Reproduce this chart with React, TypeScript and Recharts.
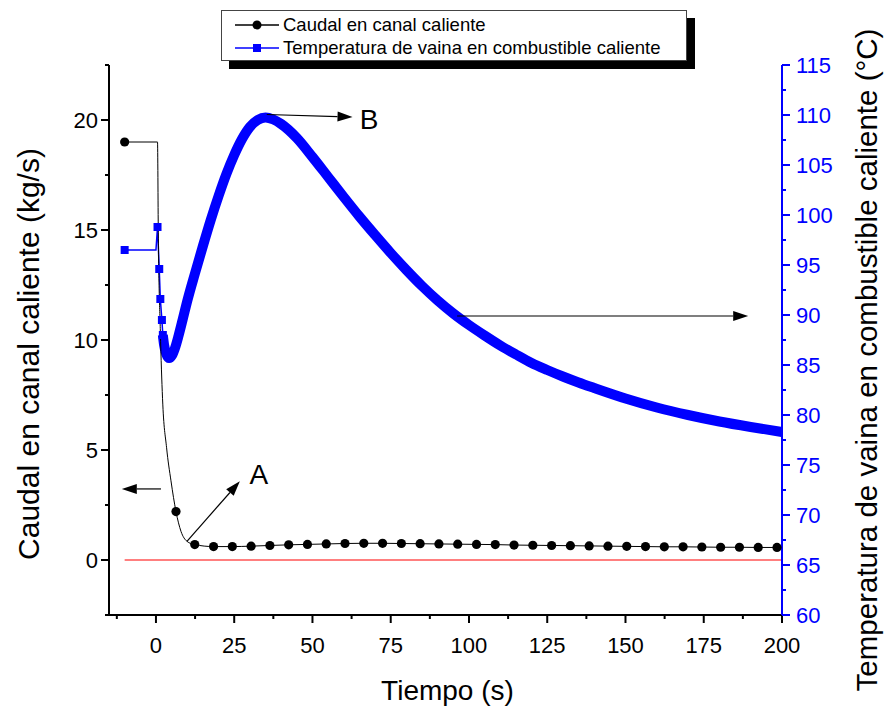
import { ComposedChart, Line, XAxis, YAxis, ReferenceLine, ReferenceDot } from 'recharts';

const FONT = '"Liberation Sans", Arial, Helvetica, sans-serif';
const BLUE = '#0000ff';

// Caudal en canal caliente (kg/s) - puntos marcados
const caudalDotT = [
  -10, 6.4, 12.4, 18.4, 24.4, 30.4, 36.4, 42.4, 48.4, 54.4, 60.4, 66.4, 72.4, 78.4, 84.4, 90.4, 96.4,
  102.4, 108.4, 114.4, 120.4, 126.4, 132.4, 138.4, 144.4, 150.4, 156.4, 162.4, 168.4, 174.4, 180.4,
  186.4, 192.4, 198.4,
];
const caudalDotV = [
  19, 2.2, 0.7, 0.61, 0.61, 0.63, 0.66, 0.69, 0.71, 0.73, 0.75, 0.76, 0.76, 0.75, 0.74, 0.73, 0.72,
  0.71, 0.7, 0.68, 0.67, 0.66, 0.65, 0.64, 0.63, 0.62, 0.61, 0.6, 0.6, 0.59, 0.58, 0.58, 0.57, 0.57,
];
// Caudal - tramo de caída sin símbolo
const caudalCurveT = [0.5, 0.75, 1.4, 2.1, 3.4, 4.8, 8, 9.9];
const caudalCurveV = [19, 14.9, 10.4, 7.35, 5.1, 3.6, 1.3, 0.85];

// Temperatura de vaina (°C) - símbolos aislados al inicio
const tempSquareT = [-10, 0, 0.5, 1.05, 1.4, 1.9, 2.2];
const tempSquareV = [96.5, 96.5, 98.8, 94.6, 91.6, 89.5, 88.0];
const tempSquareShown = [true, false, true, true, true, true, true];
// Temperatura de vaina - tramo denso
const tempBandT = [
  2.2, 2.6, 3.3, 4.2, 5.2, 6.2, 7.2, 8.5, 10, 12.5, 15, 17.5, 20, 22.5, 25, 27.5, 30, 32.5, 35, 37.5,
  40, 45, 50, 55, 60, 65, 70, 75, 80, 85, 90, 95, 100, 105, 110, 115, 120, 125, 130, 135, 140, 150,
  160, 170, 180, 190, 200,
];
const tempBandV = [
  88.0, 87.0, 86.1, 85.7, 86.0, 86.8, 87.9, 89.5, 91.4, 94.2, 96.9, 99.5, 101.9, 104.1, 106.0, 107.6,
  108.8, 109.5, 109.75, 109.55, 109.1, 107.7, 105.8, 103.8, 101.8, 99.85, 98.0, 96.2, 94.5, 92.9,
  91.45, 90.15, 89.0, 87.95, 86.95, 86.05, 85.2, 84.5, 83.85, 83.25, 82.7, 81.65, 80.75, 80.0, 79.35,
  78.8, 78.3,
];

// Línea roja de referencia (caudal cero)
const zeroT = [-10, 200];
const zeroV = [0, 0];

const xMajor = [0, 25, 50, 75, 100, 125, 150, 175, 200];
const xMinor = [-12.5, 12.5, 37.5, 62.5, 87.5, 112.5, 137.5, 162.5, 187.5];
const leftMajor = [0, 5, 10, 15, 20];
const leftMinor = [-2.5, 2.5, 7.5, 12.5, 17.5, 22.5];
const rightMajor = [60, 65, 70, 75, 80, 85, 90, 95, 100, 105, 110, 115];
const rightMinor = [62.5, 67.5, 72.5, 77.5, 82.5, 87.5, 92.5, 97.5, 102.5, 107.5, 112.5];

const xTicks = [...xMajor, ...xMinor].sort((a, b) => a - b);
const leftTicks = [...leftMajor, ...leftMinor].sort((a, b) => a - b);
const rightTicks = [...rightMajor, ...rightMinor].sort((a, b) => a - b);

const caudalLine = [
  ...caudalDotT.map((t, i) => ({ t, v: caudalDotV[i] })),
  ...caudalCurveT.map((t, i) => ({ t, v: caudalCurveV[i] })),
].sort((a, b) => a.t - b.t);
const caudalDots = caudalDotT.map((t, i) => ({ t, v: caudalDotV[i] }));
const tempSquares = tempSquareT.map((t, i) => ({ t, T: tempSquareV[i], shown: tempSquareShown[i] }));
const tempBand = tempBandT.map((t, i) => ({ t, T: tempBandV[i] }));
const zeroLine = zeroT.map((t, i) => ({ t, v: zeroV[i] }));

const TICK_FS = 22;
const TITLE_FS = 30;

const BottomTick = (p: any) => {
  const major = xMajor.includes(p.payload.value);
  return (
    <g>
      <line x1={p.x} x2={p.x} y1={p.y} y2={p.y + (major ? 8 : 4)} stroke="#000" strokeWidth={2} />
      {major && (
        <text x={p.x} y={p.y + 38} textAnchor="middle" fontSize={TICK_FS} fontFamily={FONT} fill="#000">
          {p.payload.value}
        </text>
      )}
    </g>
  );
};

const TopTick = (p: any) => {
  const major = xMajor.includes(p.payload.value);
  return <line x1={p.x} x2={p.x} y1={p.y} y2={p.y + (major ? 9 : 4)} stroke="#000" strokeWidth={2} />;
};

const LeftTick = (p: any) => {
  const major = leftMajor.includes(p.payload.value);
  return (
    <g>
      <line x1={p.x} x2={p.x - (major ? 8 : 4)} y1={p.y} y2={p.y} stroke="#000" strokeWidth={2} />
      {major && (
        <text x={p.x - 11} y={p.y} dy="0.35em" textAnchor="end" fontSize={TICK_FS} fontFamily={FONT} fill="#000">
          {p.payload.value}
        </text>
      )}
    </g>
  );
};

const RightTick = (p: any) => {
  const major = rightMajor.includes(p.payload.value);
  return (
    <g>
      <line x1={p.x} x2={p.x + (major ? 8 : 4)} y1={p.y} y2={p.y} stroke={BLUE} strokeWidth={2} />
      {major && (
        <text x={p.x + 14} y={p.y} dy="0.35em" textAnchor="start" fontSize={TICK_FS} fontFamily={FONT} fill={BLUE}>
          {p.payload.value}
        </text>
      )}
    </g>
  );
};

const vbOf = (p: any) => p.viewBox ?? p;

const BottomTitle = (p: any) => {
  const vb = vbOf(p);
  return (
    <text x={vb.x + vb.width / 2 + 2} y={vb.y + 85} textAnchor="middle" fontSize={28} fontFamily={FONT} fill="#000">
      Tiempo (s)
    </text>
  );
};

const LeftTitle = (p: any) => {
  const vb = vbOf(p);
  const cx = vb.x + 19;
  const cy = vb.y + vb.height / 2 + 14;
  return (
    <text
      x={cx}
      y={cy}
      dy="0.35em"
      transform={`rotate(-90 ${cx} ${cy})`}
      textAnchor="middle"
      fontSize={TITLE_FS}
      fontFamily={FONT}
      fill="#000"
    >
      Caudal en canal caliente (kg/s)
    </text>
  );
};

const RightTitle = (p: any) => {
  const vb = vbOf(p);
  const cx = vb.x + 85;
  const cy = vb.y + vb.height / 2 + 20;
  return (
    <text
      x={cx}
      y={cy}
      dy="0.35em"
      transform={`rotate(-90 ${cx} ${cy})`}
      textAnchor="middle"
      fontSize={29.5}
      fontFamily={FONT}
      fill="#000"
    >
      Temperatura de vaina en combustible caliente (°C)
    </text>
  );
};

const Arrow = (p: any) => {
  const { x1, y1, x2, y2 } = p;
  const a = Math.atan2(y2 - y1, x2 - x1);
  const len = 15;
  const half = 5;
  const bx = x2 - len * Math.cos(a);
  const by = y2 - len * Math.sin(a);
  const pts = `${x2},${y2} ${bx - half * Math.sin(a)},${by + half * Math.cos(a)} ${bx + half * Math.sin(a)},${by - half * Math.cos(a)}`;
  return (
    <g>
      <line x1={x1} y1={y1} x2={bx} y2={by} stroke="#000" strokeWidth={1.2} />
      <polygon points={pts} fill="#000" />
    </g>
  );
};

const letter = (txt: string) => (p: any) => (
  <text x={p.cx} y={p.cy} dy="0.35em" textAnchor="middle" fontSize={28} fontFamily={FONT} fill="#000">
    {txt}
  </text>
);

const CircleDot = (p: any) => <circle key={p.index} cx={p.cx} cy={p.cy} r={4.6} fill="#000" />;

const SquareDot = (p: any) =>
  p.payload.shown ? (
    <rect key={p.index} x={p.cx - 4} y={p.cy - 4} width={8} height={8} fill={BLUE} />
  ) : (
    <g key={p.index} />
  );

const LegendRow = ({ color, marker, label }: { color: string; marker: 'circle' | 'square'; label: string }) => (
  <div style={{ display: 'flex', alignItems: 'center', height: 22.5 }}>
    <svg width={56} height={14} style={{ marginLeft: 11 }}>
      <line x1={2} x2={46} y1={7} y2={7} stroke={color} strokeWidth={1.5} />
      {marker === 'circle' ? (
        <circle cx={24} cy={7} r={4.5} fill={color} />
      ) : (
        <rect x={20} y={3} width={8} height={8} fill={color} />
      )}
    </svg>
    <span style={{ marginLeft: -6 }}>{label}</span>
  </div>
);

export default function App() {
  return (
    <div style={{ position: 'absolute', left: 0, top: 0, width: 885, height: 711, background: '#fff' }}>
      <ComposedChart width={885} height={711} margin={{ top: 65, right: 0, bottom: 0, left: 9 }}>
        <XAxis
          xAxisId="bottom"
          type="number"
          dataKey="t"
          domain={[-15, 200]}
          ticks={xTicks}
          interval={0}
          height={96}
          tickSize={0}
          tickMargin={0}
          tickLine={false}
          tick={(p: any) => <BottomTick {...p} />}
          axisLine={{ stroke: '#000', strokeWidth: 2 }}
          label={(p: any) => <BottomTitle {...p} />}
        />
        <XAxis
          xAxisId="top"
          orientation="top"
          type="number"
          dataKey="t"
          domain={[-15, 200]}
          ticks={xTicks}
          interval={0}
          height={0}
          tickSize={0}
          tickMargin={0}
          tickLine={false}
          tick={(p: any) => <TopTick {...p} />}
          axisLine={{ stroke: '#000', strokeWidth: 2 }}
        />
        <YAxis
          yAxisId="left"
          type="number"
          domain={[-2.5, 22.5]}
          ticks={leftTicks}
          interval={0}
          width={100}
          tickSize={0}
          tickMargin={0}
          tickLine={false}
          tick={(p: any) => <LeftTick {...p} />}
          axisLine={{ stroke: '#000', strokeWidth: 2 }}
          label={(p: any) => <LeftTitle {...p} />}
        />
        <YAxis
          yAxisId="right"
          orientation="right"
          type="number"
          domain={[60, 115]}
          ticks={rightTicks}
          interval={0}
          width={103}
          tickSize={0}
          tickMargin={0}
          tickLine={false}
          tick={(p: any) => <RightTick {...p} />}
          axisLine={{ stroke: BLUE, strokeWidth: 2 }}
          label={(p: any) => <RightTitle {...p} />}
        />

        <Line
          xAxisId="bottom"
          yAxisId="left"
          data={zeroLine}
          dataKey="v"
          stroke="#ff0000"
          strokeWidth={1.2}
          dot={false}
          isAnimationActive={false}
        />
        <Line
          xAxisId="bottom"
          yAxisId="right"
          data={tempBand}
          dataKey="T"
          type="monotone"
          stroke={BLUE}
          strokeWidth={10}
          strokeLinejoin="round"
          dot={false}
          isAnimationActive={false}
        />
        <Line
          xAxisId="bottom"
          yAxisId="right"
          data={tempSquares}
          dataKey="T"
          stroke={BLUE}
          strokeWidth={1.5}
          dot={SquareDot}
          activeDot={false}
          isAnimationActive={false}
        />
        <Line
          xAxisId="bottom"
          yAxisId="left"
          data={caudalLine}
          dataKey="v"
          type="monotone"
          stroke="#000"
          strokeWidth={1}
          dot={false}
          isAnimationActive={false}
        />
        <Line
          xAxisId="bottom"
          yAxisId="left"
          data={caudalDots}
          dataKey="v"
          stroke="none"
          dot={CircleDot}
          activeDot={false}
          isAnimationActive={false}
        />

        <ReferenceLine xAxisId="bottom" yAxisId="left" segment={[{ x: 1.6, y: 3.23 }, { x: -10.9, y: 3.23 }]} shape={Arrow} />
        <ReferenceLine xAxisId="bottom" yAxisId="left" segment={[{ x: 9.9, y: 0.85 }, { x: 26.8, y: 3.58 }]} shape={Arrow} />
        <ReferenceLine xAxisId="bottom" yAxisId="right" segment={[{ x: 35.4, y: 110.05 }, { x: 62.8, y: 109.8 }]} shape={Arrow} />
        <ReferenceLine xAxisId="bottom" yAxisId="right" segment={[{ x: 96.2, y: 89.9 }, { x: 189.2, y: 89.9 }]} shape={Arrow} />
        <ReferenceDot xAxisId="bottom" yAxisId="left" x={32.9} y={3.9} r={0} shape={letter('A')} />
        <ReferenceDot xAxisId="bottom" yAxisId="right" x={68.1} y={109.6} r={0} shape={letter('B')} />
      </ComposedChart>

      <div
        style={{
          position: 'absolute',
          left: 221,
          top: 10,
          width: 466,
          height: 51,
          border: '1px solid #444',
          background: '#fff',
          boxShadow: '8px 8px 0 #000',
          fontFamily: FONT,
          fontSize: 18.5,
          color: '#000',
          paddingTop: 3,
          boxSizing: 'border-box',
        }}
      >
        <LegendRow color="#000" marker="circle" label="Caudal en canal caliente" />
        <LegendRow color={BLUE} marker="square" label="Temperatura de vaina en combustible caliente" />
      </div>
    </div>
  );
}
